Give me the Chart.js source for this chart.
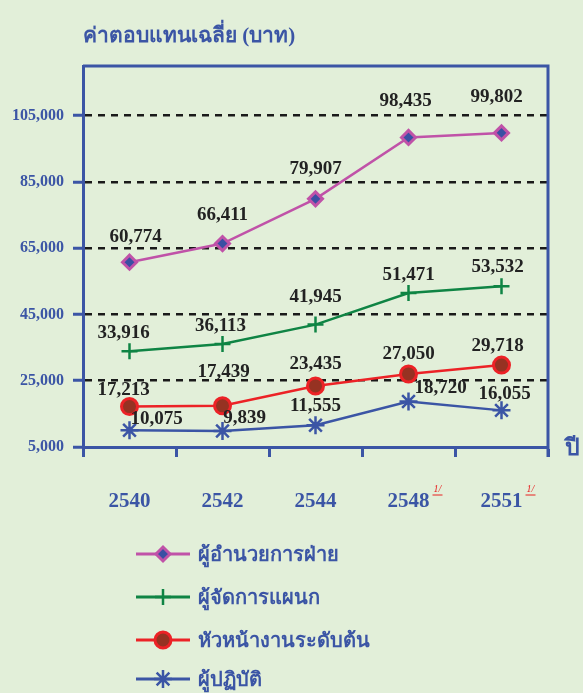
<!DOCTYPE html>
<html>
<head>
<meta charset="utf-8">
<script src="https://cdn.jsdelivr.net/npm/chart.js@4"></script>
<style>
  html, body { margin: 0; padding: 0; background: #e2efd9; }
  #wrap { width: 583px; height: 693px; }
</style>
</head>
<body>
<div id="wrap"><canvas id="grafico"></canvas></div>
<script>
const years = ['2540', '2542', '2544', '2548', '2551'];
const yTicks = [5000, 25000, 45000, 65000, 85000, 105000];
const faiya = [60774, 66411, 79907, 98435, 99802];
const phanaek = [33916, 36113, 41945, 51471, 53532];
const huana = [17213, 17439, 23435, 27050, 29718];
const patibat = [10075, 9839, 11555, 18720, 16055];
const seriesNames = ['ผู้อำนวยการฝ่าย', 'ผู้จัดการแผนก', 'หัวหน้างานระดับต้น', 'ผู้ปฏิบัติ'];
const footnoteYears = ['2548', '2551'];

const azul = '#3b55a5';
const serif = "'Liberation Serif', 'Times New Roman', serif";

// desplazamiento de cada etiqueta respecto a su punto
const labelShift = [
    [[6, -25], [0, -28], [0, -30], [-3, -36], [-5, -36]],
    [[-6, -18], [-2, -18], [0, -28], [0, -18], [-4, -19]],
    [[-6, -16], [1, -34], [0, -22], [0, -20], [-4, -19]],
    [[27, -11], [22, -13], [0, -19], [32, -13], [3, -16]]
];

const extras = {
    id: 'extras',
    beforeDatasetsDraw(chart) {
        const ctx = chart.ctx;
        const a = chart.chartArea;
        ctx.save();
        ctx.strokeStyle = azul;
        ctx.lineWidth = 3;
        ctx.beginPath();
        ctx.moveTo(a.left, a.top);
        ctx.lineTo(a.right, a.top);
        ctx.lineTo(a.right, a.bottom + 10);
        ctx.stroke();
        ctx.restore();
    },
    afterDraw(chart) {
        const ctx = chart.ctx;
        const a = chart.chartArea;
        const x = chart.scales.x;
        ctx.save();
        // titulo
        ctx.fillStyle = azul;
        ctx.font = 'bold 21px ' + serif;
        ctx.textBaseline = 'middle';
        ctx.textAlign = 'left';
        ctx.fillText('ค่าตอบแทนเฉลี่ย (บาท)', 83, 37);
        ctx.font = 'bold 23px ' + serif;
        ctx.fillText('ปี', 565, a.bottom + 2);

        // etiquetas de datos
        ctx.fillStyle = '#222';
        ctx.font = 'bold 19px ' + serif;
        ctx.textAlign = 'center';
        chart.data.datasets.forEach((ds, i) => {
            chart.getDatasetMeta(i).data.forEach((p, j) => {
                const s = labelShift[i][j];
                ctx.fillText(ds.data[j].toLocaleString('en-US'), p.x + s[0], p.y + s[1]);
            });
        });

        // notas 1/
        ctx.fillStyle = '#e82020';
        ctx.strokeStyle = '#e82020';
        ctx.lineWidth = 1;
        ctx.font = 'italic 10px ' + serif;
        footnoteYears.forEach(y => {
            const px = x.getPixelForValue(years.indexOf(y)) + 29;
            ctx.fillText('1/', px, 489);
            ctx.beginPath();
            ctx.moveTo(px - 5, 495);
            ctx.lineTo(px + 5, 495);
            ctx.stroke();
        });

        // leyenda
        const ly = [554, 597, 640, 679];
        chart.data.datasets.forEach((ds, i) => {
            ctx.strokeStyle = ds.borderColor;
            ctx.lineWidth = 3;
            ctx.beginPath();
            ctx.moveTo(136, ly[i]);
            ctx.lineTo(190, ly[i]);
            ctx.stroke();
            ctx.fillStyle = ds.pointBackgroundColor;
            ctx.strokeStyle = ds.pointBorderColor;
            ctx.lineWidth = ds.pointBorderWidth;
            Chart.helpers.drawPoint(ctx, {pointStyle: ds.pointStyle, radius: ds.pointRadius, borderWidth: ds.pointBorderWidth}, 163, ly[i]);
            ctx.fillStyle = azul;
            ctx.font = 'bold 20px ' + serif;
            ctx.textAlign = 'left';
            ctx.fillText(ds.label, 198, ly[i] + 2);
        });
        ctx.restore();
    }
};

new Chart(document.getElementById('grafico'), {
    type: 'line',
    data: {
        labels: years,
        datasets: [{
            label: seriesNames[0],
            data: faiya,
            borderColor: '#c052a8',
            borderWidth: 2.5,
            pointStyle: 'rectRot',
            pointRadius: 7,
            pointBackgroundColor: '#3a4fa3',
            pointBorderColor: '#c052a8',
            pointBorderWidth: 3,
            tension: 0
        }, {
            label: seriesNames[1],
            data: phanaek,
            borderColor: '#0f8444',
            borderWidth: 2.5,
            pointStyle: 'cross',
            pointRadius: 8,
            pointBackgroundColor: '#0f8444',
            pointBorderColor: '#0f8444',
            pointBorderWidth: 2.5,
            tension: 0
        }, {
            label: seriesNames[2],
            data: huana,
            borderColor: '#ec2226',
            borderWidth: 2.5,
            pointStyle: 'circle',
            pointRadius: 8,
            pointBackgroundColor: '#963222',
            pointBorderColor: '#ec2226',
            pointBorderWidth: 3,
            tension: 0
        }, {
            label: seriesNames[3],
            data: patibat,
            borderColor: azul,
            borderWidth: 2.5,
            pointStyle: 'star',
            pointRadius: 9,
            pointBackgroundColor: azul,
            pointBorderColor: azul,
            pointBorderWidth: 2.5,
            tension: 0
        }]
    },
    options: {
        responsive: true,
        maintainAspectRatio: false,
        animation: false,
        layout: {
            padding: { left: 0, top: 66, right: 35, bottom: 176 }
        },
        plugins: {
            legend: { display: false },
            tooltip: { enabled: false }
        },
        scales: {
            x: {
                offset: true,
                afterFit: s => { s.height = 70; },
                grid: {
                    offset: true,
                    drawOnChartArea: false,
                    tickLength: 10,
                    tickColor: azul,
                    tickWidth: 3
                },
                border: { color: azul, width: 3 },
                ticks: {
                    color: azul,
                    padding: 32,
                    font: { family: serif, size: 21, weight: 'bold' }
                }
            },
            y: {
                min: 5000,
                max: 120000,
                afterFit: s => { s.width = 83; },
                afterBuildTicks: s => { s.ticks = yTicks.map(v => ({ value: v })); },
                grid: {
                    color: c => (c.tick && c.tick.value > 5000) ? '#1a1a1a' : 'rgba(0,0,0,0)',
                    lineWidth: 2.5,
                    tickLength: 10,
                    tickColor: azul,
                    tickWidth: 3
                },
                border: { color: azul, width: 3, dash: [7, 6] },
                ticks: {
                    color: azul,
                    padding: 9,
                    font: { family: serif, size: 16, weight: 'bold' },
                    callback: v => v.toLocaleString('en-US')
                }
            }
        }
    },
    plugins: [extras]
});
</script>
</body>
</html>
